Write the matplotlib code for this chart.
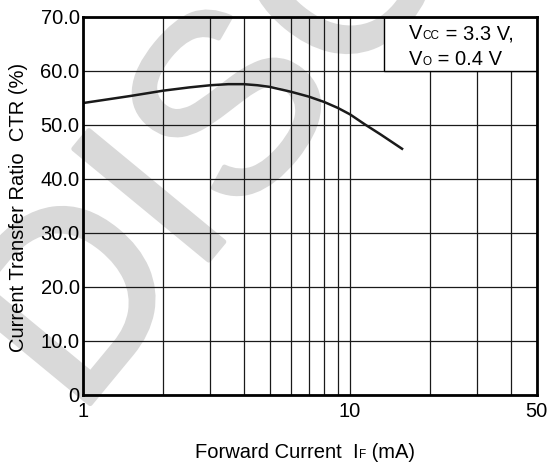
import matplotlib
matplotlib.use("Agg")
import matplotlib.pyplot as plt
import matplotlib.patheffects as pe
from matplotlib.patches import Rectangle
from matplotlib.ticker import FixedLocator, NullLocator

# ---- data ----
forward_current_ma = [1, 1.5, 2, 2.5, 3, 3.5, 4, 4.5, 5, 6, 7, 8, 9, 10, 11.4, 13, 15.8]
ctr_percent = [54.0, 55.3, 56.3, 56.9, 57.3, 57.5, 57.5, 57.3, 57.0, 56.1, 55.2, 54.2,
               53.1, 51.9, 50.0, 48.2, 45.4]

x_grid = [1, 2, 3, 4, 5, 6, 7, 8, 9, 10, 20, 30, 40, 50]
x_ticklabels = {1: "1", 10: "10", 50: "50"}
y_ticks = [0, 10, 20, 30, 40, 50, 60, 70]
y_ticklabels = ["0", "10.0", "20.0", "30.0", "40.0", "50.0", "60.0", "70.0"]
box_x = [13.4, 50]
box_y = [60, 70]
watermark_letters = ["D", "I", "S", "C"]

W, H = 550, 469
FONT = "Liberation Sans"
FS = 14.5
FS_SMALL = 8.5
WM_COLOR = "#d9d9d9"

plt.rcParams["font.family"] = [FONT, "DejaVu Sans"]

fig = plt.figure(figsize=(W / 100, H / 100), dpi=100)
fig.patch.set_facecolor("white")

# watermark letters (baseline-centre anchors, pixels from top-left)
wm_anchor_px = [(135.3, 348.9), (216.3, 250.9), (292.3, 157.9), (404.3, 21.9)]
for letter, (px, py) in zip(watermark_letters, wm_anchor_px):
    fig.text(px / W, 1 - py / H, letter, fontsize=183, color=WM_COLOR,
             rotation=50.5, rotation_mode="anchor", ha="center", va="baseline",
             zorder=-5,
             path_effects=[pe.withStroke(linewidth=3.6, foreground=WM_COLOR)])

ax = fig.add_axes([83 / W, 1 - 394.5 / H, (536.7 - 83) / W, (394.5 - 16.7) / H])
ax.set_facecolor("none")
ax.set_zorder(1)
ax.set_xscale("log")
ax.set_xlim(1, 50)
ax.set_ylim(0, 70)

ax.xaxis.set_major_locator(FixedLocator(x_grid))
ax.xaxis.set_minor_locator(NullLocator())
ax.set_xticklabels([x_ticklabels.get(v, "") for v in x_grid])
ax.set_yticks(y_ticks)
ax.set_yticklabels(y_ticklabels)
ax.tick_params(axis="both", length=0, labelsize=FS, colors="black")
ax.tick_params(axis="x", pad=5.5)
ax.tick_params(axis="y", pad=2.5)
ax.grid(True, which="major", color="#1a1a1a", linewidth=0.9)
for s in ax.spines.values():
    s.set_linewidth(2.0)
    s.set_color("black")
    s.set_zorder(5)

ax.plot(forward_current_ma, ctr_percent, color="#1a1a1a", linewidth=1.8,
        solid_capstyle="butt", solid_joinstyle="round", zorder=4)

# condition box
ax.add_patch(Rectangle((box_x[0], box_y[0]), box_x[1] - box_x[0], box_y[1] - box_y[0],
                       facecolor="white", edgecolor="black", linewidth=1.0, zorder=3))

fig.canvas.draw()
renderer = fig.canvas.get_renderer()


def rich(x_px, y_base_px, pieces):
    x = x_px
    for s, fs in pieces:
        t = fig.text(x / W, 1 - y_base_px / H, s, fontsize=fs, ha="left", va="baseline",
                     color="black", zorder=10)
        bb = t.get_window_extent(renderer)
        x = bb.x1
    return x


rich(409.3, 39.3, [("V", FS), ("CC", FS_SMALL), (" = 3.3 V,", FS)])
rich(409.3, 65.0, [("V", FS), ("O", FS_SMALL), (" = 0.4 V", FS)])
rich(195.0, 457.7, [("Forward Current  I", FS), ("F", FS_SMALL), (" (mA)", FS)])

fig.text(19 / W, 1 - 207.5 / H, "Current Transfer Ratio  CTR (%)", fontsize=FS,
         rotation=90, ha="center", va="center", zorder=10)

fig.savefig("out.png", dpi=100)
